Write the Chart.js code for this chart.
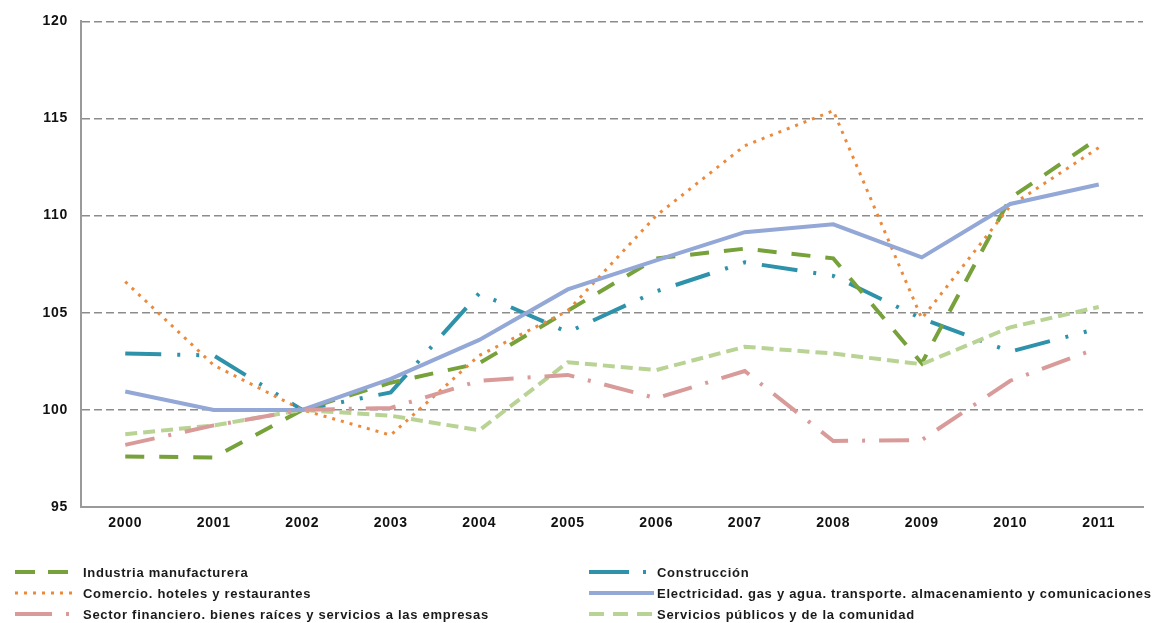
<!DOCTYPE html>
<html><head><meta charset="utf-8">
<script src="https://cdn.jsdelivr.net/npm/chart.js@4.4.1/dist/chart.umd.min.js"></script>
<style>html,body{margin:0;padding:0;background:#fff;}#wrap{width:1157px;height:623px;position:relative;}</style>
</head><body><div id="wrap"><canvas id="c" width="1157" height="623"></canvas></div>
<script>
const years = ['2000','2001','2002','2003','2004','2005','2006','2007','2008','2009','2010','2011'];
const yTicks = [95,100,105,110,115,120];
const industria    = [97.6, 97.55, 100.0, 101.4, 102.4, 105.1, 107.8, 108.3, 107.8, 102.4, 110.9, 114.0];
const comercio     = [106.6, 102.3, 100.0, 98.7, 102.8, 105.1, 110.0, 113.6, 115.4, 104.7, 110.5, 113.5];
const construccion = [102.9, 102.8, 100.0, 100.9, 106.0, 104.0, 106.1, 107.6, 106.9, 104.7, 103.0, 104.2];
const electricidad = [100.95, 100.0, 100.0, 101.6, 103.6, 106.2, 107.7, 109.15, 109.55, 107.85, 110.6, 111.6];
const financiero   = [98.2, 99.2, 100.0, 100.1, 101.5, 101.8, 100.6, 102.0, 98.4, 98.45, 101.5, 103.2];
const servicios    = [98.75, 99.2, 100.0, 99.7, 98.95, 102.45, 102.05, 103.25, 102.9, 102.35, 104.25, 105.3];
const seriesNames = [
  'Industria manufacturera',
  'Construcción',
  'Comercio. hoteles y restaurantes',
  'Electricidad. gas y agua. transporte. almacenamiento y comunicaciones',
  'Sector financiero. bienes raíces y servicios a las empresas',
  'Servicios públicos y de la comunidad'
];

const styles = [
  {color:'#77A13B', width:4, dash:[19,15], cap:'butt'},
  {color:'#2E93AA', width:4, dash:[36,16,3,16,3,16], cap:'butt'},
  {color:'#EC8A3C', width:3, dash:[3,6], cap:'butt'},
  {color:'#93A8D6', width:4, dash:[], cap:'butt'},
  {color:'#D89B99', width:4, dash:[30,14,3,14], cap:'butt'},
  {color:'#B9D395', width:4, dash:[12,6], cap:'butt'}
];
const values = [industria, construccion, comercio, electricidad, financiero, servicios];
const drawOrder = [4,5,3,1,0,2];

const datasets = values.map((v,i)=>({
  label: seriesNames[i],
  data: v,
  borderColor: styles[i].color,
  backgroundColor: styles[i].color,
  borderWidth: styles[i].width,
  borderDash: styles[i].dash,
  borderCapStyle: styles[i].cap,
  pointRadius: 0,
  tension: 0,
  fill: false,
  order: drawOrder[i]
}));

const FONT = '"Liberation Sans", Arial, sans-serif';

const spacingPlugin = {
  id:'spacing',
  beforeUpdate(chart){ chart.ctx.letterSpacing = '0.7px'; },
  beforeDraw(chart){ chart.ctx.letterSpacing = '0.7px'; }
};

const legendPlugin = {
  id:'customLegend',
  afterDraw(chart){
    const ctx = chart.ctx;
    const rows = [572, 593, 614];
    const cols = [{x0:15,x1:72,tx:83},{x0:589,x1:654,tx:657}];
    const layout = [[0,0,0],[1,1,0],[2,0,1],[3,1,1],[4,0,2],[5,1,2]];
    ctx.save();
    layout.forEach(([idx,c,r])=>{
      const s = styles[idx];
      const col = cols[c];
      const y = rows[r];
      ctx.beginPath();
      ctx.strokeStyle = s.color;
      ctx.lineWidth = s.width;
      ctx.lineCap = s.cap;
      let dash = s.dash;
      if (idx===1) dash = [40,14,3,100];
      if (idx===4) dash = [37,14,3,100];
      if (idx===0) dash = [20,13];
      if (idx===5) dash = [15,9];
      ctx.setLineDash(dash);
      ctx.moveTo(col.x0,y);
      ctx.lineTo(col.x1,y);
      ctx.stroke();
      ctx.setLineDash([]);
      ctx.fillStyle = '#1a1a1a';
      ctx.letterSpacing = '0.72px';
      ctx.font = 'bold 13px ' + FONT;
      ctx.textBaseline = 'middle';
      ctx.textAlign = 'left';
      ctx.fillText(seriesNames[idx], col.tx, y+1);
    });
    ctx.restore();
  }
};

new Chart(document.getElementById('c'), {
  type:'line',
  data:{labels: years, datasets},
  options:{
    responsive:false,
    animation:false,
    devicePixelRatio:1,
    layout:{padding:{left:0, top:20, right:14, bottom:0}},
    plugins:{legend:{display:false}, tooltip:{enabled:false}},
    scales:{
      x:{
        offset:true,
        grid:{display:false, drawTicks:false},
        border:{display:true, color:'#9a9a9a', width:2},
        ticks:{color:'#111', font:{family:FONT, size:14, weight:'bold'}, padding:8, maxRotation:0},
        afterFit(s){ s.height = 116; }
      },
      y:{
        min:95, max:120,
        afterBuildTicks(s){ s.ticks = yTicks.map(v=>({value:v})); },
        grid:{
          color:(c)=> c.tick && c.tick.value===95 ? 'rgba(0,0,0,0)' : '#8c8c8c',
          lineWidth:1.5,
          drawTicks:false
        },
        border:{display:true, color:'#9a9a9a', width:2, dash:[8,4]},
        ticks:{color:'#111', font:{family:FONT, size:14, weight:'bold'}, padding:13},
        afterFit(s){ s.width = 81; }
      }
    }
  },
  plugins:[spacingPlugin, legendPlugin]
});
</script></body></html>
